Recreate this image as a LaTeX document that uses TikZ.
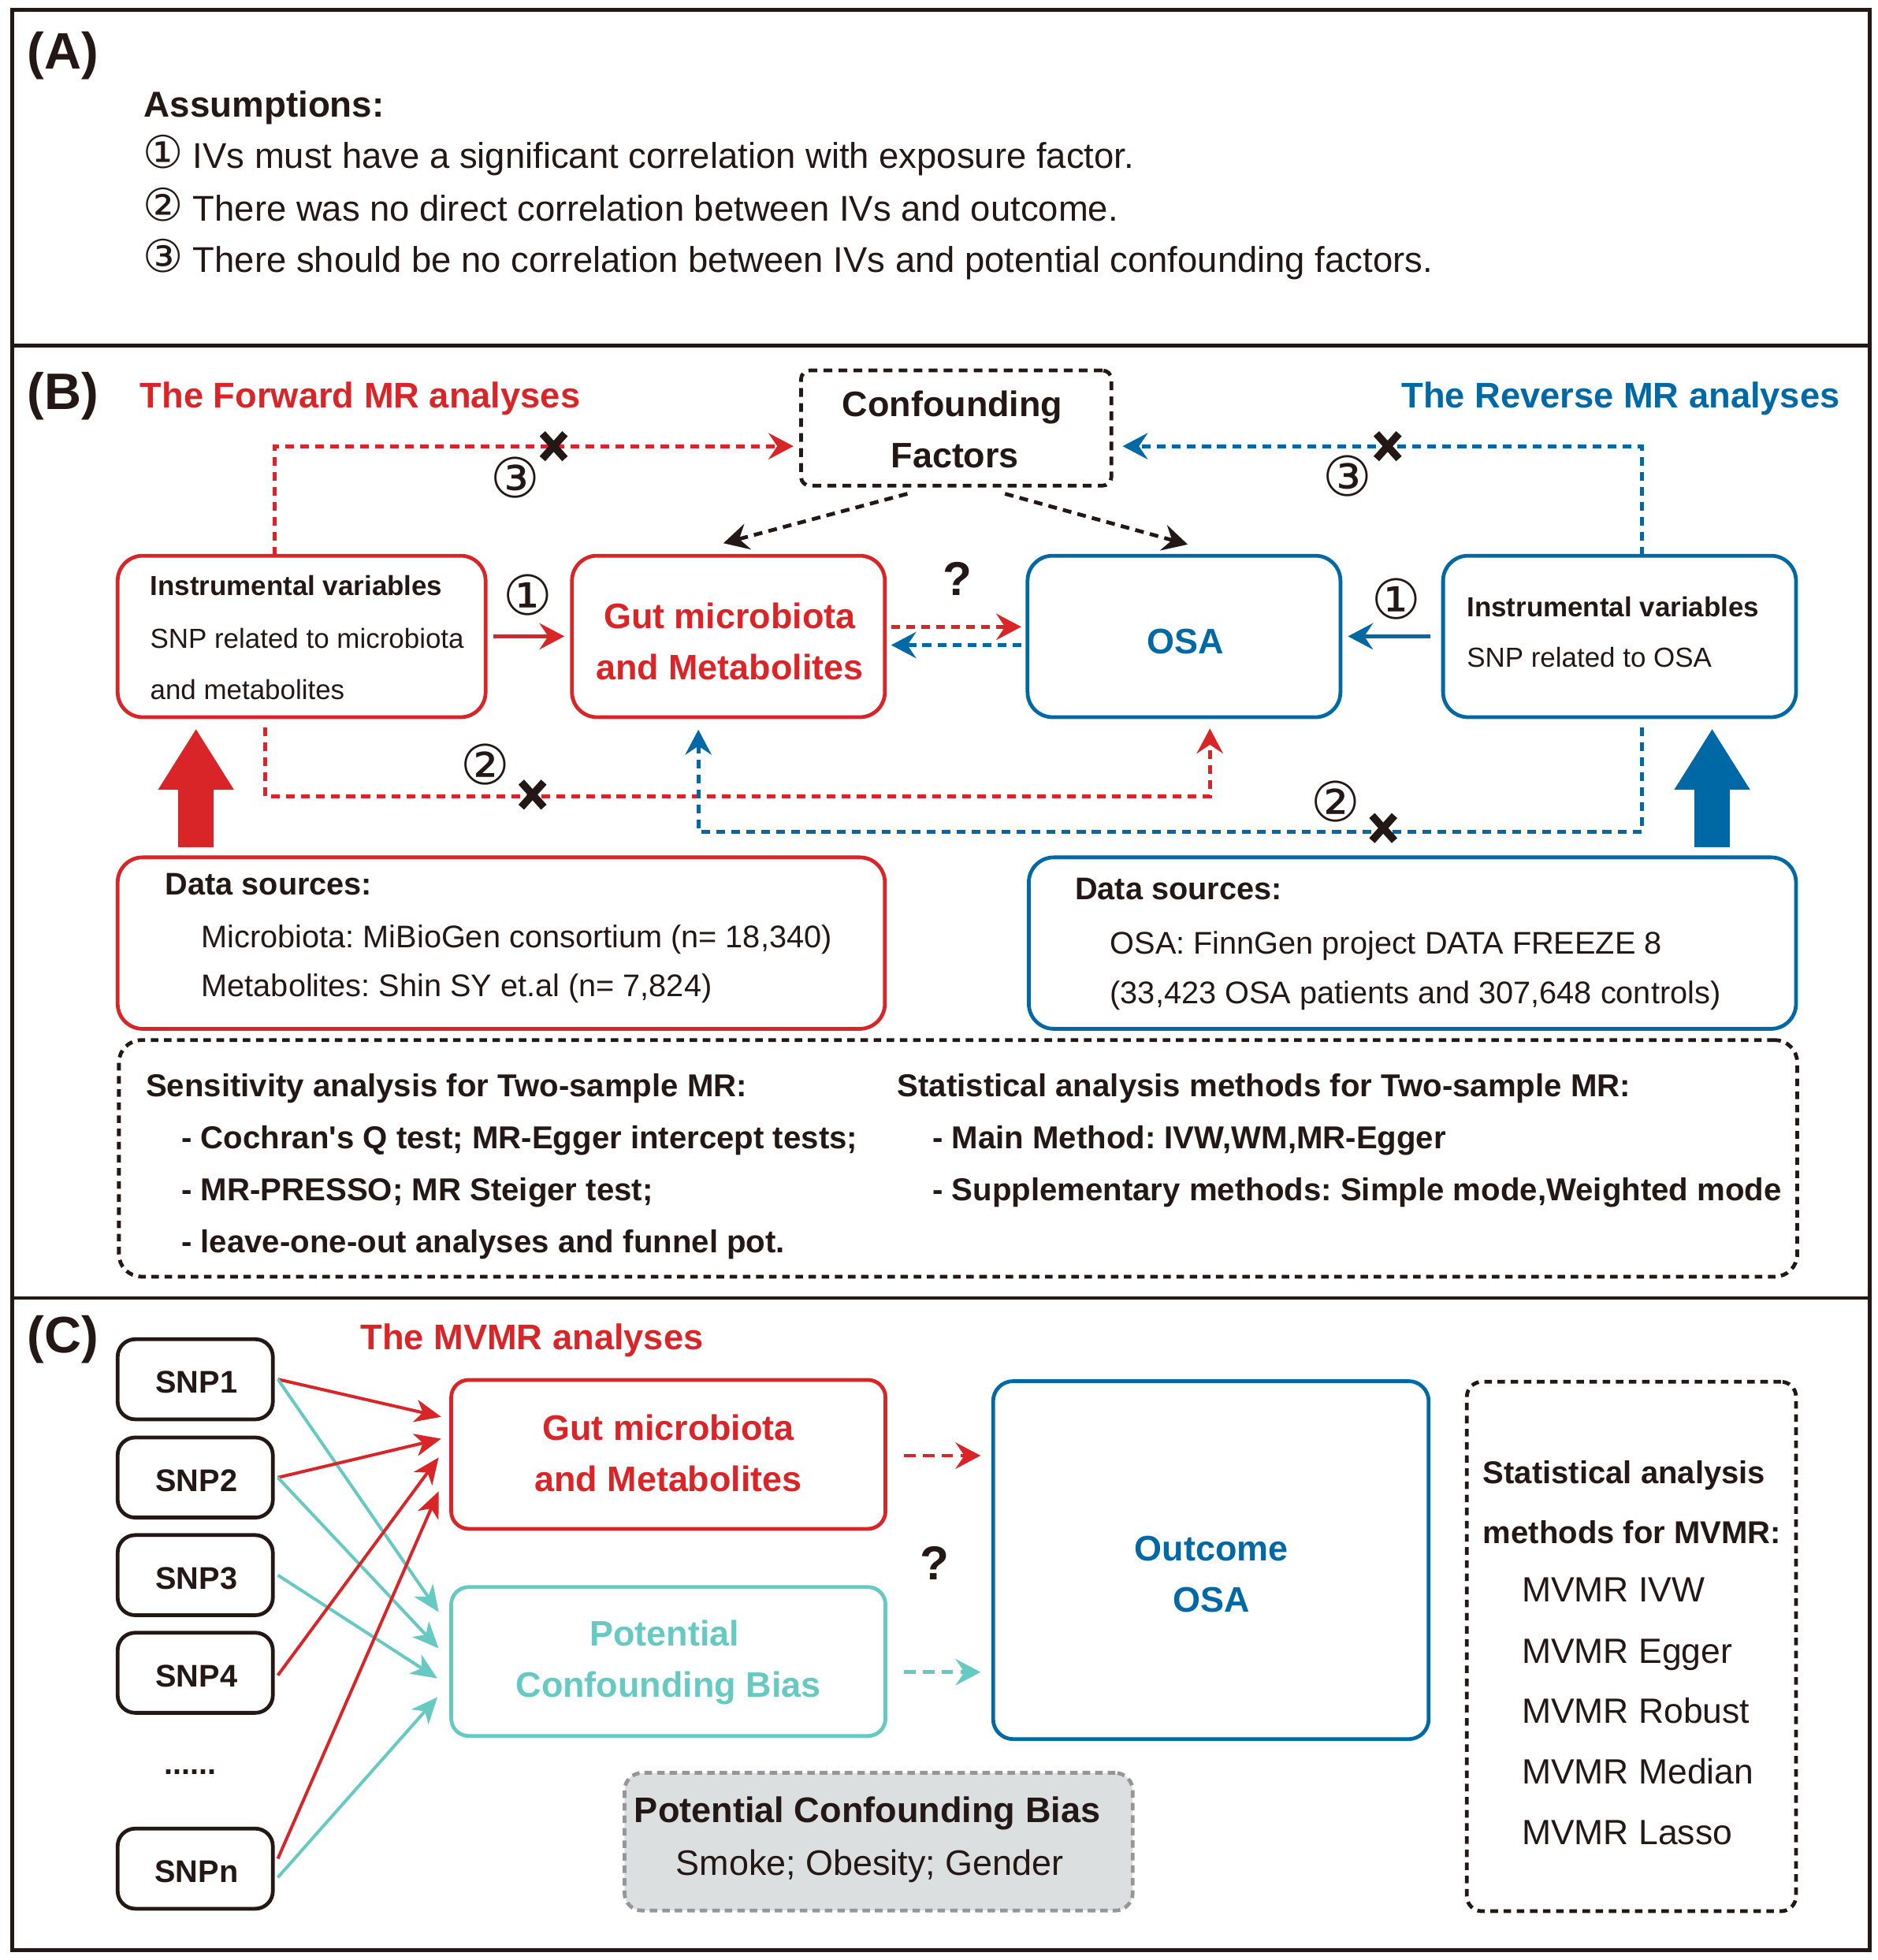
\documentclass[tikz,border=0pt]{standalone}
\usepackage{fontspec}
\setmainfont{Liberation Sans}
\newfontfamily\symf{DejaVu Sans}
\usetikzlibrary{arrows.meta,calc}
\definecolor{cred}{RGB}{218,37,40}
\definecolor{cblue}{RGB}{0,104,165}
\definecolor{cteal}{RGB}{102,201,194}
\definecolor{cgrey}{RGB}{220,223,223}
\definecolor{cgreyline}{RGB}{150,150,150}
\definecolor{cdark}{RGB}{35,24,21}
\newcommand{\fs}[1]{\fontsize{#1}{#1}\selectfont}
\newcommand{\xmk}[1]{\draw[cdark,line width=6pt] ($(#1)+(-9,-10)$) -- ($(#1)+(9,10)$) ($(#1)+(9,-10)$) -- ($(#1)+(-9,10)$);}
\frenchspacing
\begin{document}
\begin{tikzpicture}[x=1pt,y=-1pt,
  txt/.style={inner sep=0pt,outer sep=0pt,text=cdark,anchor=base west},
  ctxt/.style={inner sep=0pt,outer sep=0pt,text=cdark,anchor=base},
  boxbase/.style={line width=3pt,anchor=north west,inner sep=0pt,outer sep=0pt},
  rbox/.style={boxbase,draw=cred,rounded corners=20pt},
  bbox/.style={boxbase,draw=cblue,rounded corners=20pt},
  kbox/.style={boxbase,draw=cdark,rounded corners=14pt},
  tbox/.style={boxbase,draw=cteal,rounded corners=14pt},
  dbox/.style={boxbase,draw=cdark,dash pattern=on 6pt off 4.5pt},
  rdash/.style={draw=cred,line width=3pt,dash pattern=on 7pt off 5pt},
  bdash/.style={draw=cblue,line width=3pt,dash pattern=on 7pt off 5pt},
  kdash/.style={draw=cdark,line width=3pt,dash pattern=on 7pt off 5pt},
  arr/.style={-{Stealth[length=20pt,width=21pt,inset=7pt]}},
  sarr/.style={-{Stealth[length=21pt,width=18pt,inset=6pt]}},
  lbl/.style={txt,font=\bfseries\fs{41}},
  circ/.style={inner sep=0pt,outer sep=0pt,text=cdark,font=\symf\fs{44}},
  fat/.style={line width=28pt,-{Triangle[length=49pt,width=57pt]}},
  frame/.style={draw=cdark,line width=3pt},
  big/.style={ctxt,font=\bfseries\fs{28.3}}
]
\useasboundingbox (0,0) rectangle (1500,1566);
% frame
\draw[frame] (10,8) rectangle (1494,1558);
\draw[frame] (10,276) -- (1494,276);
\draw[frame] (10,1037) -- (1494,1037);

% ---------------- Panel A ----------------
\node[lbl] (labA) at (22,55) {(A)};
\node[txt,font=\bfseries\fs{28.8}] (assum) at (115,93.5) {Assumptions:};
\node[txt,font=\fs{28.6}] (as1) at (114,134.5) {{\symf\fs{36}①} IVs must have a significant correlation with exposure factor.};
\node[txt,font=\fs{28.6}] (as2) at (114,176.5) {{\symf\fs{36}②} There was no direct correlation between IVs and outcome.};
\node[txt,font=\fs{28.6}] (as3) at (114,217.5) {{\symf\fs{36}③} There should be no correlation between IVs and potential confounding factors.};

% ---------------- Panel B ----------------
\node[lbl] (labB) at (22,327) {(B)};
\node[txt,font=\bfseries\fs{28.5},text=cred] (fwd) at (112,325.6) {The Forward MR analyses};
\node[txt,anchor=base east,font=\bfseries\fs{28.5},text=cblue] (rev) at (1470,325.6) {The Reverse MR analyses};

\node[dbox,rounded corners=7pt,dash pattern=on 7pt off 5pt,minimum width=248pt,minimum height=92pt] (conf) at (640,296) {};
\node[big] (conft1) at (761,333) {Confounding};
\node[big] (conft2) at (763,374) {Factors};

\node[rbox,minimum width=294pt,minimum height=129pt] (iv1) at (94,444) {};
\node[txt,font=\bfseries\fs{22}] (iv1a) at (120,476) {Instrumental variables};
\node[txt,font=\fs{22}] (iv1b) at (120,517.6) {SNP related to microbiota};
\node[txt,font=\fs{22}] (iv1c) at (120,559) {and metabolites};

\node[rbox,minimum width=250pt,minimum height=129pt] (gut) at (457,444) {};
\node[big,text=cred] (gutt1) at (583,502) {Gut microbiota};
\node[big,text=cred] (gutt2) at (583,543) {and Metabolites};
\node[bbox,minimum width=250pt,minimum height=129pt] (osa) at (821,444) {};
\node[big,text=cblue] (osat) at (947,522.5) {OSA};

\node[bbox,minimum width=282pt,minimum height=129pt] (iv2) at (1153,444) {};
\node[txt,font=\bfseries\fs{22}] (iv2a) at (1172,492.5) {Instrumental variables};
\node[txt,font=\fs{22}] (iv2b) at (1172,533) {SNP related to OSA};

% assumption 1 arrows
\draw[cred,line width=3pt,arr,shorten >=6pt] ($(iv1.east |- 0,508.4)+(6,0)$) -- (gut.west |- 0,508.4);
\node[circ] (c1f) at (421.7,475.5) {①};
\draw[cblue,line width=3pt,arr,shorten >=6pt] ($(iv2.west |- 0,508.4)+(-10,0)$) -- (osa.east |- 0,508.4);
\node[circ] (c1r) at (1115.5,478.8) {①};

% Gut <-> OSA
\draw[rdash,arr,shorten <=5pt,shorten >=5pt] (gut.east |- 0,500.8) -- (osa.west |- 0,500.8);
\draw[bdash,arr,shorten <=5pt,shorten >=5pt] (osa.west |- 0,515.4) -- (gut.east |- 0,515.4);
\node[ctxt,font=\bfseries\fs{38}] (q1) at (765,476) {?};

% confounding -> gut / osa
\coordinate (cg) at (725,394.5);
\coordinate (co) at (803,394.5);
\draw[kdash,arr] (cg) -- ($(gut.north)+(-4,-10)$);
\draw[kdash,arr] (co) -- ($(osa.north)+(3,-9)$);

% forward 3
\coordinate (f3) at (219.3,356.5);
\draw[rdash,arr,shorten >=6pt] (iv1.north -| f3) -- (f3) -- (conf.west |- f3);
\coordinate (xf3) at (442.4,356.5);
\xmk{xf3}
\node[circ] (c3f) at (412,381.8) {③};

% reverse 3
\coordinate (r3) at (1312,356.5);
\draw[bdash,arr,shorten >=9pt] (iv2.north -| r3) -- (r3) -- (conf.east |- r3);
\coordinate (xr3) at (1108.7,356.5);
\xmk{xr3}
\node[circ] (c3r) at (1076.5,380.4) {③};

% forward 2
\coordinate (f2) at (212,636.3);
\coordinate (f2e) at (966.7,636.3);
\draw[rdash,arr,shorten >=9pt] ($(iv1.south -| f2)+(0,8)$) -- (f2) -- (f2e) -- (osa.south -| f2e);
\coordinate (xf2) at (425.5,634.9);
\xmk{xf2}
\node[circ] (c2f) at (388,611) {②};

% reverse 2
\coordinate (r2) at (1312,664.4);
\coordinate (r2e) at (558,664.4);
\draw[bdash,arr,shorten >=10pt] ($(iv2.south -| r2)+(0,8)$) -- (r2) -- (r2e) -- (gut.south -| r2e);
\coordinate (xr2) at (1105.2,661.6);
\xmk{xr2}
\node[circ] (c2r) at (1067.1,640.5) {②};

% data sources
\node[rbox,minimum width=613pt,minimum height=137pt] (ds1) at (94,685) {};
\node[txt,font=\bfseries\fs{25}] (ds1a) at (132,715) {Data sources:};
\node[txt,font=\fs{25}] (ds1b) at (161,757) {Microbiota: MiBioGen consortium (n= 18,340)};
\node[txt,font=\fs{25}] (ds1c) at (161,796) {Metabolites: Shin SY et.al (n= 7,824)};

\node[bbox,minimum width=613pt,minimum height=137pt] (ds2) at (822,685) {};
\node[txt,font=\bfseries\fs{25}] (ds2a) at (859,719) {Data sources:};
\node[txt,font=\fs{25}] (ds2b) at (887,762) {OSA: FinnGen project DATA FREEZE 8};
\node[txt,font=\fs{25}] (ds2c) at (887,802) {(33,423 OSA patients and 307,648 controls)};

% fat arrows
\draw[cred,fat,shorten >=9pt,shorten <=8pt] (ds1.north -| 156.6,0) -- (iv1.south -| 156.6,0);
\draw[cblue,fat,shorten >=9pt,shorten <=8pt] (ds2.north -| 1368,0) -- (iv2.south -| 1368,0);

% sensitivity box
\node[dbox,rounded corners=18pt,minimum width=1341pt,minimum height=189pt] (sens) at (95,831) {};
\node[txt,font=\bfseries\fs{25.3}] (s1) at (116.5,876) {Sensitivity analysis for Two-sample MR:};
\node[txt,font=\bfseries\fs{25.3}] (s2) at (145,918) {- Cochran\textquotesingle s Q test; MR-Egger intercept tests;};
\node[txt,font=\bfseries\fs{25.3}] (s3) at (145,959) {- MR-PRESSO; MR Steiger test;};
\node[txt,font=\bfseries\fs{25.3}] (s4) at (145,1001) {- leave-one-out analyses and funnel pot.};
\node[txt,font=\bfseries\fs{25.3}] (m1) at (717,876) {Statistical analysis methods for Two-sample MR:};
\node[txt,font=\bfseries\fs{25.3}] (m2) at (745,918) {- Main Method: IVW,WM,MR-Egger};
\node[txt,font=\bfseries\fs{25.3}] (m3) at (745,959) {- Supplementary methods: Simple mode,Weighted mode};

% ---------------- Panel C ----------------
\node[lbl] (labC) at (22,1081) {(C)};
\node[txt,font=\bfseries\fs{28.5},text=cred] (mvt) at (288,1078.5) {The MVMR analyses};

\foreach \n/\y/\t in {1/1070/SNP1,2/1148.5/SNP2,3/1226.5/SNP3,4/1304.5/SNP4,n/1461/SNPn}{
  \node[kbox,minimum width=124pt,minimum height=64pt] (snp\n) at (94,\y) {};
  \node[ctxt,font=\bfseries\fs{25}] (snpt\n) at ($(snp\n.center)+(1,11)$) {\t};
}
\node[ctxt,font=\bfseries\fs{25}] (dots) at (152,1418) {......};

\node[rbox,rounded corners=14pt,minimum width=347pt,minimum height=119pt] (gutc) at (360.5,1102.5) {};
\node[big,text=cred] (gutct1) at (534,1150.5) {Gut microbiota};
\node[big,text=cred] (gutct2) at (534,1191.5) {and Metabolites};
\node[tbox,minimum width=347pt,minimum height=119pt] (pcb) at (360.5,1268) {};
\node[big,text=cteal] (pcbt1) at (531,1315) {Potential};
\node[big,text=cteal] (pcbt2) at (534,1356) {Confounding Bias};
\node[bbox,rounded corners=16pt,minimum width=348pt,minimum height=286pt] (outc) at (793.5,1103.5) {};
\node[big,text=cblue] (outct1) at (968,1247) {Outcome};
\node[big,text=cblue] (outct2) at (968,1288) {OSA};

% SNP arrows
\begin{scope}[line width=2.5pt]
\draw[cred,sarr] ($(snp1.east)+(4,0)$) -- ($(gutc.north west)+(-8,29.5)$);
\draw[cteal,sarr] ($(snp1.east)+(4,0)$) -- ($(pcb.north west)+(-10,20)$);
\draw[cred,sarr] ($(snp2.east)+(4,0)$) -- ($(gutc.north west)+(-8,47)$);
\draw[cteal,sarr] ($(snp2.east)+(4,0)$) -- ($(pcb.north west)+(-10,49)$);
\draw[cteal,sarr] ($(snp3.east)+(4,0)$) -- ($(pcb.north west)+(-11,73)$);
\draw[cred,sarr] ($(snp4.east)+(4,2)$) -- ($(gutc.north west)+(-10,62)$);
\draw[cred,sarr] ($(snpn.east)+(4,-8)$) -- ($(gutc.north west)+(-10,89)$);
\draw[cteal,sarr] ($(snpn.east)+(4,7)$) -- ($(pcb.north west)+(-11,88)$);
\end{scope}

\draw[rdash,dash pattern=on 9pt off 6pt,arr,shorten <=15pt,shorten >=10pt] (gutc.east |- 0,1163) -- (outc.west |- 0,1163);
\draw[draw=cteal,line width=3pt,dash pattern=on 9pt off 6pt,arr,shorten <=15pt,shorten >=10pt] (pcb.east |- 0,1336) -- (outc.west |- 0,1336);
\node[ctxt,font=\bfseries\fs{38}] (q2) at (747,1262) {?};

\node[boxbase,draw=cgreyline,fill=cgrey,dash pattern=on 6pt off 4pt,rounded corners=14pt,minimum width=406pt,minimum height=110pt] (grey) at (499,1416.5) {};
\node[ctxt,font=\bfseries\fs{28.4}] (g1) at (693,1456) {Potential Confounding Bias};
\node[ctxt,font=\fs{28.3}] (g2) at (695,1498.5) {Smoke; Obesity; Gender};

\node[dbox,rounded corners=12pt,minimum width=263pt,minimum height=423pt] (stat) at (1172,1104) {};
\node[txt,font=\bfseries\fs{25.2}] (st1) at (1185,1185.5) {Statistical analysis};
\node[txt,font=\bfseries\fs{25.2}] (st2) at (1185,1233) {methods for MVMR:};
\node[txt,font=\fs{28}] (st3) at (1216,1280) {MVMR IVW};
\node[txt,font=\fs{28}] (st4) at (1216,1329) {MVMR Egger};
\node[txt,font=\fs{28}] (st5) at (1216,1377) {MVMR Robust};
\node[txt,font=\fs{28}] (st6) at (1216,1425.5) {MVMR Median};
\node[txt,font=\fs{28}] (st7) at (1216,1474) {MVMR Lasso};
\end{tikzpicture}
\end{document}
